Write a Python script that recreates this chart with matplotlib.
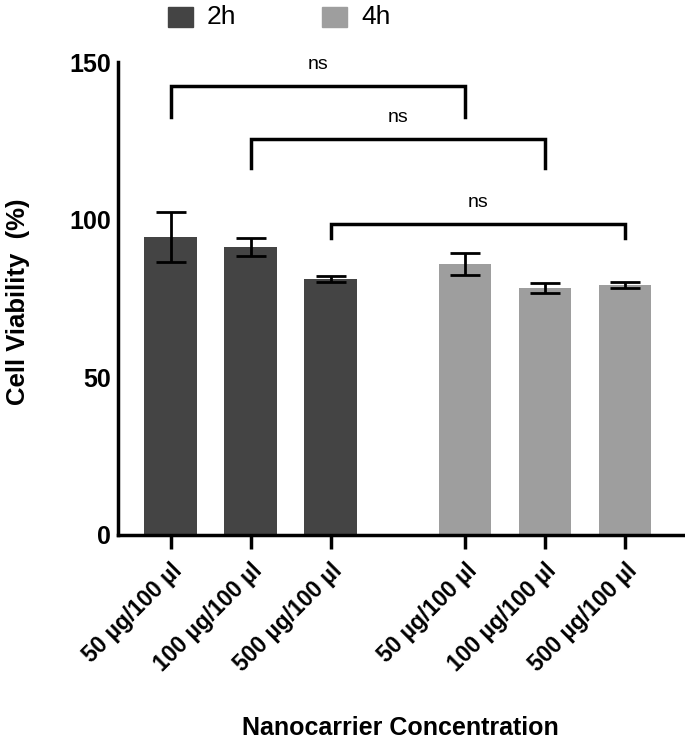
import matplotlib
matplotlib.use("Agg")
import matplotlib.pyplot as plt
from matplotlib.patches import Rectangle
import numpy as np

plt.rcParams['font.family'] = ['Liberation Sans', 'DejaVu Sans']

categories = ["50 µg/100 µl", "100 µg/100 µl", "500 µg/100 µl",
              "50 µg/100 µl", "100 µg/100 µl", "500 µg/100 µl"]
groups = ["2h", "2h", "2h", "4h", "4h", "4h"]
means = [94.5, 91.3, 81.2, 86.0, 78.4, 79.3]
errors = [8.0, 2.9, 1.0, 3.4, 1.6, 1.0]
comparisons = [(0, 3, 142.4, 132.6), (1, 4, 125.6, 116.4), (2, 5, 98.6, 94.2)]
comp_labels = ["ns", "ns", "ns"]

colors = {"2h": "#444444", "4h": "#9e9e9e"}

fig = plt.figure(figsize=(6.85, 7.44), dpi=100)
W, H = 685, 744
ax = fig.add_axes([118 / W, 1 - 535 / H, (683 - 118) / W, (535 - 62) / H])

pos = np.array([0, 1, 2, 3.675, 4.675, 5.675])
bar_w = 0.66
ax.bar(pos, means, width=bar_w, color=[colors[g] for g in groups], zorder=2)
ax.errorbar(pos, means, yerr=errors, fmt='none', ecolor='black',
            elinewidth=2, capsize=10.5, capthick=2, zorder=3)

for (i, j, top, leg), lab in zip(comparisons, comp_labels):
    ax.plot([pos[i], pos[i], pos[j], pos[j]], [leg, top, top, leg],
            color='black', lw=2.5, solid_joinstyle='miter', clip_on=False)
    ax.text((pos[i] + pos[j]) / 2, top + 4, lab, ha='center', va='bottom',
            fontsize=14, family=['Liberation Sans Narrow', 'Liberation Sans'])

ax.set_xlim(-0.66, 6.4)
ax.set_ylim(0, 150)
ax.set_yticks([0, 50, 100, 150])
ax.set_yticklabels(["0", "50", "100", "150"], fontsize=18, fontweight='bold')
ax.tick_params(axis='y', length=0, pad=5)
ax.set_xticks(pos)
ax.set_xticklabels(categories, rotation=45, ha='right', rotation_mode='anchor',
                   fontsize=16.5, fontweight='bold')
ax.tick_params(axis='x', length=10, width=2.5, pad=7)
for s in ['top', 'right']:
    ax.spines[s].set_visible(False)
for s in ['left', 'bottom']:
    ax.spines[s].set_linewidth(2.5)

fig.text(18 / W, 1 - 302 / H, "Cell Viability  (%)", ha='center', va='center',
         rotation=90, fontsize=18.5, fontweight='bold')
fig.text(400 / W, 1 - 728 / H, "Nanocarrier Concentration", ha='center', va='center',
         fontsize=18, fontweight='bold')

# legend
for x0, g in [(168, "2h"), (322, "4h")]:
    fig.patches.append(Rectangle((x0 / W, 1 - 27 / H), 25 / W, 20 / H,
                                 transform=fig.transFigure, color=colors[g]))
    fig.text((x0 + 39) / W, 1 - 17 / H, g, ha='left', va='center', fontsize=19,
             family=['Liberation Sans Narrow', 'Liberation Sans'])

fig.savefig("out.png", dpi=100)
